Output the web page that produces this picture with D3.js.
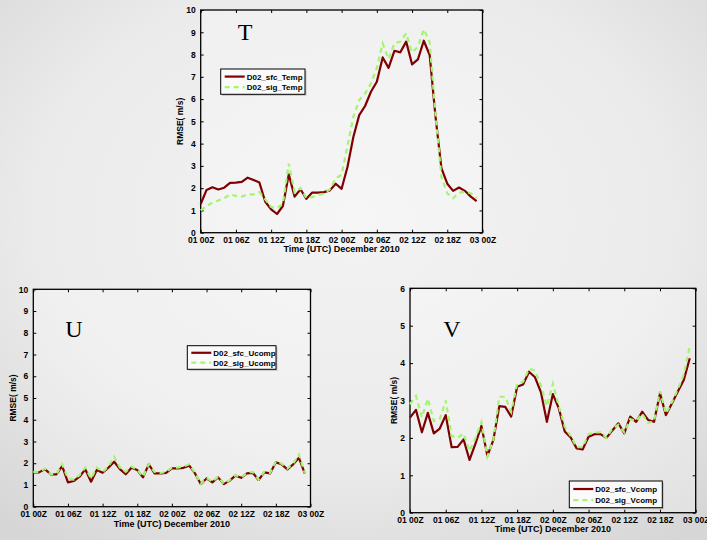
<!DOCTYPE html>
<html><head><meta charset="utf-8">
<script src="https://cdn.jsdelivr.net/npm/d3@7"></script>
<style>html,body{margin:0;padding:0;background:#e6e6e6;}svg{display:block;}</style>
</head><body>
<script>
const hours = [0,1,2,3,4,5,6,7,8,9,10,11,12,13,14,15,16,17,18,19,20,21,22,23,24,25,26,27,28,29,30,31,32,33,34,35,36,37,38,39,40,41,42,43,44,45,46,47];
const tickHours = [0,6,12,18,24,30,36,42,48];
const tickLabels = ["01 00Z","01 06Z","01 12Z","01 18Z","02 00Z","02 06Z","02 12Z","02 18Z","03 00Z"];

const tSfc = [1.29,1.92,2.04,1.94,2.02,2.24,2.25,2.28,2.47,2.37,2.25,1.39,1.05,0.84,1.2,2.62,1.62,1.95,1.52,1.8,1.8,1.82,1.9,2.2,1.97,2.95,4.3,5.28,5.69,6.33,6.78,7.87,7.4,8.17,8.1,8.58,7.56,7.78,8.62,7.98,5.2,2.9,2.2,1.88,2.03,1.88,1.62,1.42];
const tSig = [1.0,1.2,1.35,1.45,1.55,1.72,1.65,1.62,1.72,1.72,1.82,1.5,1.15,1.1,1.3,3.1,1.8,2.0,1.55,1.6,1.7,1.75,1.95,2.45,2.6,3.9,5.2,5.95,6.25,6.7,7.4,8.5,7.8,8.5,8.58,8.95,8.1,8.35,9.13,8.55,5.3,2.5,1.77,1.55,1.8,1.84,1.77,1.55];

const uSfc = [1.58,1.58,1.73,1.49,1.49,1.87,1.12,1.18,1.38,1.72,1.15,1.69,1.56,1.79,2.07,1.73,1.49,1.79,1.69,1.35,1.95,1.53,1.53,1.56,1.76,1.76,1.79,1.89,1.53,1.04,1.3,1.12,1.35,1.04,1.2,1.43,1.33,1.53,1.56,1.23,1.58,1.53,2.04,1.95,1.72,1.95,2.25,1.53];
const uSig = [1.6,1.6,1.75,1.5,1.5,1.95,1.3,1.25,1.45,1.8,1.3,1.8,1.6,1.85,2.3,1.8,1.6,1.85,1.7,1.38,1.95,1.6,1.55,1.6,1.8,1.8,1.85,1.95,1.55,1.05,1.32,1.15,1.38,1.05,1.22,1.45,1.35,1.55,1.6,1.25,1.6,1.55,2.08,1.98,1.75,1.98,2.4,1.55];

const vSfc = [2.54,2.75,2.15,2.67,2.12,2.25,2.61,1.75,1.76,1.96,1.41,1.85,2.32,1.52,1.94,2.85,2.83,2.57,3.37,3.43,3.77,3.62,3.22,2.43,3.17,2.79,2.17,2.01,1.72,1.69,2.03,2.1,2.1,2.0,2.2,2.39,2.12,2.57,2.43,2.7,2.48,2.43,3.19,2.61,2.92,3.24,3.55,4.13];
const vSig = [2.9,3.12,2.55,3.05,2.45,2.5,3.0,2.05,2.0,2.12,1.65,2.0,2.42,1.5,1.95,3.1,3.1,2.7,3.45,3.5,3.85,3.8,3.4,2.85,3.45,2.85,2.3,2.05,1.75,1.75,2.1,2.15,2.15,2.0,2.25,2.35,2.15,2.5,2.45,2.65,2.4,2.45,3.25,2.65,2.95,3.3,3.7,4.45];

const panels = [
  {letter:"T", box:[200.7,482.5,10,232.7], yMax:10, yTicks:[0,1,2,3,4,5,6,7,8,9,10], sfc:tSfc, sig:tSig,
   names:["D02_sfc_Temp","D02_sig_Temp"], legend:[220.7,69,84.3,25.3], letterPos:[245,40],
   ylabX:183, xlabY:251.5},
  {letter:"U", box:[33.3,310.5,289.3,506.7], yMax:10, yTicks:[0,1,2,3,4,5,6,7,8,9,10], sfc:uSfc, sig:uSig,
   names:["D02_sfc_Ucomp","D02_sig_Ucomp"], legend:[187.3,345.7,88.7,23.6], letterPos:[74,337],
   ylabX:15.5, xlabY:526.5},
  {letter:"V", box:[410,695.7,288.3,512.7], yMax:6, yTicks:[0,1,2,3,4,5,6], sfc:vSfc, sig:vSig,
   names:["D02_sfc_Vcomp","D02_sig_Vcomp"], legend:[569.3,481,93,26.7], letterPos:[452,336.5],
   ylabX:397, xlabY:531.5}
];

const W = 707, H = 540;
const svg = d3.select("body").append("svg").attr("width", W).attr("height", H);
const defs = svg.append("defs");
const rg = defs.append("radialGradient").attr("id","bg").attr("cx","50%").attr("cy","40%").attr("r","75%");
rg.append("stop").attr("offset","0%").attr("stop-color","#f3f3f3");
rg.append("stop").attr("offset","60%").attr("stop-color","#ebebeb");
rg.append("stop").attr("offset","100%").attr("stop-color","#d6d6d6");
svg.append("rect").attr("width",W).attr("height",H).attr("fill","url(#bg)");

const font = "'Liberation Sans', Arial, sans-serif";
const RED = "#7f0000", GREEN = "#a3f56e";

panels.forEach(p => {
  const [x0,x1,y0,y1] = p.box;
  const x = d3.scaleLinear().domain([0,48]).range([x0,x1]);
  const y = d3.scaleLinear().domain([0,p.yMax]).range([y1,y0]);
  const g = svg.append("g");

  g.append("rect").attr("x",x0).attr("y",y0).attr("width",x1-x0).attr("height",y1-y0)
    .attr("fill","#ffffff").attr("fill-opacity",0.25);

  const xb = d3.axisBottom(x).tickValues(tickHours).tickSizeInner(-3).tickSizeOuter(0)
    .tickFormat((d,i)=>tickLabels[i]).tickPadding(4);
  const xt = d3.axisTop(x).tickValues(tickHours).tickSizeInner(-3).tickSizeOuter(0).tickFormat("");
  const yl = d3.axisLeft(y).tickValues(p.yTicks).tickSizeInner(-3).tickSizeOuter(0).tickPadding(5).tickFormat(d3.format("d"));
  const yr = d3.axisRight(y).tickValues(p.yTicks).tickSizeInner(-3).tickSizeOuter(0).tickFormat("");
  [[xb,`translate(0,${y1})`],[xt,`translate(0,${y0})`],[yl,`translate(${x0},0)`],[yr,`translate(${x1},0)`]]
    .forEach(([ax,tr]) => {
      const a = g.append("g").attr("transform",tr).call(ax);
      a.select(".domain").remove();
      a.selectAll("line").attr("stroke","#000").attr("stroke-width",1);
      a.selectAll("text").attr("font-family",font).attr("font-weight","bold").attr("font-size","8.5px").attr("fill","#000");
    });
  g.append("rect").attr("x",x0).attr("y",y0).attr("width",x1-x0).attr("height",y1-y0)
    .attr("fill","none").attr("stroke","#000").attr("stroke-width",1.3);

  const line = d3.line().x((d,i)=>x(hours[i])).y(d=>y(d));
  g.append("path").datum(p.sfc).attr("d",line).attr("fill","none")
    .attr("stroke",RED).attr("stroke-width",2.2).attr("stroke-linejoin","round");
  g.append("path").datum(p.sig).attr("d",line).attr("fill","none")
    .attr("stroke",GREEN).attr("stroke-width",2.2).attr("stroke-dasharray","5,4");

  g.append("text").attr("x",(x0+x1)/2).attr("y",p.xlabY).attr("text-anchor","middle")
    .attr("font-family",font).attr("font-weight","bold").attr("font-size","9px").text("Time (UTC) December 2010");
  g.append("text").attr("transform",`translate(${p.ylabX},${(y0+y1)/2}) rotate(-90)`).attr("text-anchor","middle")
    .attr("font-family",font).attr("font-weight","bold").attr("font-size","8.5px").text("RMSE( m/s)");
  g.append("text").attr("x",p.letterPos[0]).attr("y",p.letterPos[1]).attr("text-anchor","middle")
    .attr("font-family","'Liberation Serif','Times New Roman',serif").attr("font-size","24px").text(p.letter);

  const [lx,ly,lw,lh] = p.legend;
  g.append("rect").attr("x",lx+1.5).attr("y",ly+1.5).attr("width",lw).attr("height",lh).attr("fill","#999").attr("fill-opacity",0.5);
  g.append("rect").attr("x",lx).attr("y",ly).attr("width",lw).attr("height",lh)
    .attr("fill","#fafafa").attr("stroke","#000").attr("stroke-width",1);
  [[RED,null,p.names[0]],[GREEN,"5,4",p.names[1]]].forEach(([c,dash,name],i) => {
    const yy = ly + lh*(i===0?0.3:0.72);
    const ln = g.append("line").attr("x1",lx+4).attr("x2",lx+24).attr("y1",yy).attr("y2",yy)
      .attr("stroke",c).attr("stroke-width",2.2);
    if (dash) ln.attr("stroke-dasharray",dash);
    g.append("text").attr("x",lx+26).attr("y",yy+3).attr("font-family",font).attr("font-weight","bold")
      .attr("font-size","8px").text(name);
  });
});
</script>
</body></html>
